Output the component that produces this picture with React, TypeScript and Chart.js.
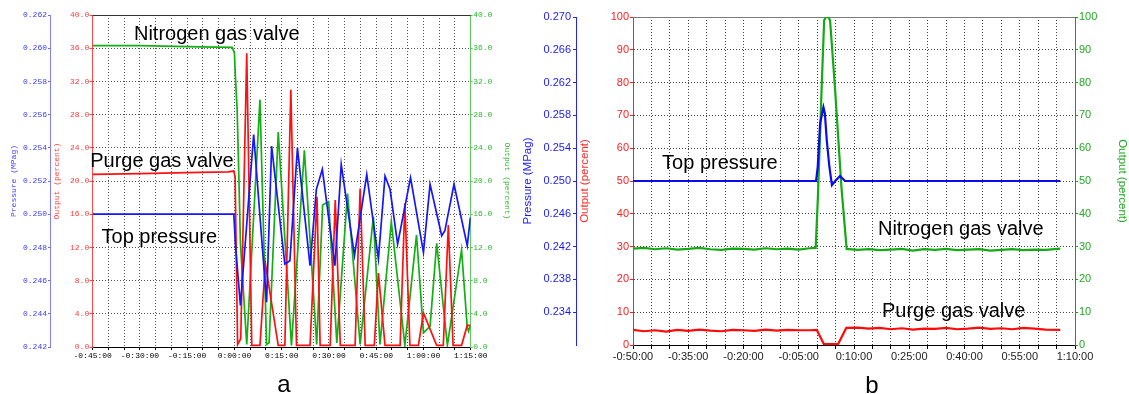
import React, { useEffect, useRef } from 'react';
import { Chart, registerables } from 'chart.js';
Chart.register(...registerables);

// ---------- Panel a ----------
const aTickStart = -45;
const aTickEnd = 75;
const aN2Time = [-45, -30, -15, -0.7, 0, 0.3, 0.85, 1.4, 1.9, 3.9, 8.1, 10.2, 11.0, 13.9, 18.1, 22.2, 26.1, 28.0, 29.9, 32.5, 35.9, 39.9, 44.1, 46.2, 49.8, 54.1, 57.8, 60.0, 62.1, 64.2, 67.6, 72.1, 73.9, 74.3, 74.9];
const aN2Values = [36.3, 36.3, 36.2, 36.1, 35.4, 32.6, 28.6, 20.5, 12.5, 0.3, 29.8, 0.3, 0.5, 25.9, 0.2, 23.7, 0.3, 17.1, 17.5, 0.5, 18.5, 0.3, 15.7, 0.3, 15.1, 0.2, 13.5, 1.7, 2.5, 12.5, 0.2, 11.7, 2.4, 1.9, 2.6];
const aPurgeTime = [-45, -30, -15, -2, -0.2, 0.2, 1.0, 2.0, 3.9, 5.5, 8.1, 9.8, 13.9, 16.0, 17.9, 19.7, 24.0, 26.2, 27.2, 30.4, 32.0, 33.6, 38.3, 39.9, 41.5, 44.4, 45.7, 47.8, 52.6, 54.1, 55.7, 58.4, 60.0, 64.2, 66.3, 67.9, 69.4, 72.1, 73.9, 74.9];
const aPurgeValues = [20.8, 20.9, 21.0, 21.1, 21.2, 20.5, 0.3, 1.0, 35.4, 0.2, 0.2, 10.1, 0.2, 0.2, 31.0, 0.2, 0.2, 18.1, 0.2, 0.2, 17.7, 0.2, 0.2, 19.1, 0.2, 0.2, 8.9, 0.2, 0.2, 17.3, 0.2, 0.2, 4.1, 0.2, 0.2, 14.7, 0.2, 0.2, 2.6, 2.6];
const aPressTime = [-45, -0.2, 0.3, 1.9, 6.1, 10.2, 11.8, 16.0, 17.6, 20.0, 24.0, 26.0, 27.9, 31.9, 33.9, 38.1, 42.0, 45.7, 47.8, 49.4, 51.8, 55.9, 60.0, 62.1, 65.8, 66.8, 69.7, 73.9, 74.9];
const aPressValues = [0.2500, 0.2500, 0.2482, 0.2445, 0.2548, 0.2447, 0.2541, 0.2470, 0.2472, 0.2540, 0.2469, 0.2515, 0.2527, 0.2469, 0.2530, 0.2475, 0.2524, 0.2473, 0.2523, 0.2515, 0.2482, 0.2522, 0.2477, 0.2518, 0.2487, 0.2490, 0.2518, 0.2481, 0.2498];
const aLabels = [
  { text: 'Nitrogen gas valve', x: -31.9, y: 37.0 },
  { text: 'Purge gas valve', x: -45.8, y: 21.7 },
  { text: 'Top pressure', x: -42.2, y: 12.5 },
];

// ---------- Panel b ----------
const bTickStart = -50;
const bTickEnd = 70;
const bPressTime = [-50, -0.3, 0.15, 0.8, 1.7, 2.1, 2.6, 3.3, 4.0, 4.9, 6.2, 7.6, 66];
const bPressValues = [0.2500, 0.2500, 0.2517, 0.2570, 0.2590, 0.2582, 0.2550, 0.2518, 0.2495, 0.2500, 0.2506, 0.2500, 0.2500];
const bN2Time = [-50, -47, -44, -41, -38, -35, -32, -29, -26, -23, -20, -17, -14, -11, -8, -5, -2, -0.4, 0.2, 1.2, 1.9, 2.4, 3.0, 3.5, 4.8, 6.6, 8.0, 11, 14, 17, 20, 23, 26, 29, 32, 35, 38, 41, 44, 47, 50, 53, 56, 59, 62, 66];
const bN2Values = [29.4, 29.6, 29.2, 29.5, 29.1, 29.3, 29.6, 29.2, 29.0, 29.4, 29.3, 29.1, 29.5, 29.2, 29.4, 29.1, 29.5, 29.6, 45, 78, 99, 100, 100, 99, 79, 48, 29.3, 29.0, 29.2, 28.9, 29.1, 29.3, 28.8, 29.2, 29.0, 29.3, 28.9, 29.1, 29.2, 28.8, 29.0, 29.2, 28.9, 29.1, 29.0, 29.4];
const bPurgeTime = [-50, -47, -44, -41, -38, -35, -32, -29, -26, -23, -20, -17, -14, -11, -8, -5, -2, -0.1, 1.8, 5.7, 7.9, 11, 14, 17, 20, 23, 26, 29, 32, 35, 38, 41, 44, 47, 50, 53, 56, 59, 62, 66];
const bPurgeValues = [4.6, 4.2, 4.5, 4.1, 4.6, 4.3, 4.7, 4.4, 4.2, 4.6, 4.5, 4.3, 4.7, 4.4, 4.6, 4.5, 4.5, 4.6, 0.3, 0.3, 5.2, 5.3, 5.0, 5.2, 4.8, 5.1, 4.7, 5.0, 4.9, 5.2, 4.8, 5.0, 5.3, 4.9, 5.1, 4.8, 5.2, 5.0, 4.7, 4.6];
const bLabels = [
  { text: 'Top pressure', x: -42.1, y: 53.7 },
  { text: 'Nitrogen gas valve', x: 16.5, y: 33.5 },
  { text: 'Purge gas valve', x: 17.6, y: 8.5 },
];

const fmtTime = (v: number) => {
  const r = Math.round(v);
  const s = r < 0 ? '-' : '';
  const a = Math.abs(r);
  const h = Math.floor(a / 60);
  const m = a % 60;
  return `${s}${h}:${String(m).padStart(2, '0')}:00`;
};

const toXY = (t: number[], v: number[]) => t.map((x, i) => ({ x, y: v[i] }));

function makeOverlay(labels: { text: string; x: number; y: number }[], font: string, topColor: string) {
  return {
    id: 'overlay',
    beforeDatasetsDraw(chart: any) {
      const { ctx, chartArea } = chart;
      ctx.save();
      ctx.strokeStyle = topColor;
      ctx.lineWidth = 1;
      ctx.beginPath();
      const y = Math.round(chartArea.top) + 0.5;
      ctx.moveTo(chartArea.left, y);
      ctx.lineTo(chartArea.right, y);
      ctx.stroke();
      ctx.restore();
    },
    afterDraw(chart: any) {
      const { ctx, scales } = chart;
      ctx.save();
      ctx.font = font;
      ctx.fillStyle = '#000';
      ctx.textAlign = 'left';
      ctx.textBaseline = 'alphabetic';
      labels.forEach((l) => ctx.fillText(l.text, scales.x.getPixelForValue(l.x), scales.yR.getPixelForValue(l.y)));
      ctx.restore();
    },
  };
}

const mono = { family: '"Liberation Mono", "DejaVu Sans Mono", monospace', size: 8 };
const sans = { family: '"Liberation Sans", Arial, sans-serif', size: 11 };
const sansTitle = { family: '"Liberation Sans", Arial, sans-serif', size: 11.5 };
const labelFont = '20px "Liberation Sans", Arial, sans-serif';

function configA(): any {
  return {
    type: 'line',
    data: {
      datasets: [
        { data: toXY(aPressTime, aPressValues), yAxisID: 'yP', borderColor: '#1515ff', borderWidth: 1.7, pointRadius: 0, tension: 0 },
        { data: toXY(aPurgeTime, aPurgeValues), yAxisID: 'yR', borderColor: '#ff1010', borderWidth: 1.7, pointRadius: 0, tension: 0 },
        { data: toXY(aN2Time, aN2Values), yAxisID: 'yG', borderColor: '#12b012', borderWidth: 1.7, pointRadius: 0, tension: 0 },
      ],
    },
    options: {
      responsive: false,
      animation: false,
      layout: { padding: { top: 15, left: 0, right: 0, bottom: 0 } },
      plugins: { legend: { display: false }, tooltip: { enabled: false } },
      scales: {
        x: {
          type: 'linear', min: aTickStart, max: aTickEnd,
          afterFit: (s: any) => { s.height = 47; },
          ticks: {
            stepSize: 5, autoSkip: false, maxRotation: 0, minRotation: 0, padding: 1, color: '#000', font: mono,
            callback: (v: any) => ((Math.round(v) - aTickStart) % 15 === 0 ? fmtTime(v) : ''),
          },
          grid: { color: '#555', tickColor: '#000', tickLength: 3, lineWidth: 1 },
          border: { color: '#000', dash: [1, 2] },
        },
        yP: {
          position: 'left', weight: 2, min: 0.242, max: 0.262,
          afterFit: (s: any) => { s.width = 50; },
          ticks: { stepSize: 0.002, color: '#3a3aff', font: mono, padding: 1, callback: (v: any) => Number(v).toFixed(3) },
          grid: { drawOnChartArea: false, tickColor: '#6a6aff', tickLength: 2 },
          border: { color: '#8080ff' },
          title: { display: true, text: 'Pressure (MPag)', color: '#3a3aff', font: mono, padding: { top: 9, bottom: 0 } },
        },
        yR: {
          position: 'left', weight: 1, min: 0, max: 40,
          afterFit: (s: any) => { s.width = 42.7; },
          ticks: { stepSize: 4, color: '#ff3a3a', font: mono, padding: 0.5, callback: (v: any) => Number(v).toFixed(1) },
          grid: { color: '#555', tickColor: '#ff4444', tickLength: 3 },
          border: { color: '#ff4848', dash: [1, 2] },
          title: { display: true, text: 'Output (percent)', color: '#ff3a3a', font: mono, padding: { top: 2, bottom: 0 } },
        },
        yG: {
          position: 'right', min: 0, max: 40,
          afterFit: (s: any) => { s.width = 49.3; },
          ticks: { stepSize: 4, color: '#2db82d', font: mono, padding: 0.5, callback: (v: any) => Number(v).toFixed(1) },
          grid: { drawOnChartArea: false, tickColor: '#55c455', tickLength: 2 },
          border: { color: '#5ccc5c' },
          title: { display: true, text: 'Output (percent)', color: '#2db82d', font: mono, padding: { top: 8.5, bottom: 0 } },
        },
      },
    },
    plugins: [makeOverlay(aLabels, labelFont, '#333')],
  };
}

function configB(): any {
  return {
    type: 'line',
    data: {
      datasets: [
        { data: toXY(bPressTime, bPressValues), yAxisID: 'yP', borderColor: '#0a0aee', borderWidth: 2.2, pointRadius: 0, tension: 0 },
        { data: toXY(bPurgeTime, bPurgeValues), yAxisID: 'yR', borderColor: '#ff0a0a', borderWidth: 2.2, pointRadius: 0, tension: 0 },
        { data: toXY(bN2Time, bN2Values), yAxisID: 'yG', borderColor: '#14aa14', borderWidth: 2.2, pointRadius: 0, tension: 0 },
      ],
    },
    options: {
      responsive: false,
      animation: false,
      layout: { padding: { top: 17, left: 0, right: 0, bottom: 0 } },
      plugins: { legend: { display: false }, tooltip: { enabled: false } },
      scales: {
        x: {
          type: 'linear', min: bTickStart, max: bTickEnd,
          afterFit: (s: any) => { s.height = 49; },
          ticks: {
            stepSize: 5, autoSkip: false, maxRotation: 0, minRotation: 0, padding: 1, color: '#222', font: sans,
            callback: (v: any) => ((Math.round(v) - bTickStart) % 15 === 0 ? fmtTime(v) : ''),
          },
          grid: { color: '#444', tickColor: '#000', tickLength: 4, lineWidth: 1 },
          border: { color: '#000', dash: [1, 2] },
        },
        yP: {
          position: 'left', weight: 2, min: 0.230, max: 0.270,
          afterFit: (s: any) => { s.width = 61; },
          ticks: {
            stepSize: 0.004, color: '#1a1aff', font: sans, padding: 2,
            callback: (v: any) => (Math.abs(Number(v) - 0.230) < 1e-6 ? '' : Number(v).toFixed(3)),
          },
          grid: { drawOnChartArea: false, tickColor: (c: any) => (c.index === 0 ? 'rgba(0,0,0,0)' : '#2222ff'), tickLength: 3 },
          border: { color: '#2222ff' },
          title: { display: true, text: 'Pressure (MPag)', color: '#1a1aff', font: sansTitle, padding: { top: 6, bottom: 0 } },
        },
        yR: {
          position: 'left', weight: 1, min: 0, max: 100,
          afterFit: (s: any) => { s.width = 57; },
          ticks: { stepSize: 10, color: '#ff2020', font: sans, padding: 1 },
          grid: { color: '#444', tickColor: '#ff2020', tickLength: 3 },
          border: { color: '#ff2020', dash: [1, 2] },
          title: { display: true, text: 'Output (percent)', color: '#ff3030', font: sansTitle, padding: { top: 2, bottom: 0 } },
        },
        yG: {
          position: 'right', min: 0, max: 100,
          afterFit: (s: any) => { s.width = 54; },
          ticks: { stepSize: 10, color: '#22aa22', font: sans, padding: 1 },
          grid: { drawOnChartArea: false, tickColor: '#10a010', tickLength: 3 },
          border: { color: '#10a010' },
          title: { display: true, text: 'Output (percent)', color: '#22aa22', font: sansTitle, padding: { top: 0, bottom: 0 } },
        },
      },
    },
    plugins: [makeOverlay(bLabels, labelFont, '#7a7a7a')],
  };
}

function Panel({ left, width, make }: { left: number; width: number; make: () => any }) {
  const ref = useRef<HTMLCanvasElement | null>(null);
  useEffect(() => {
    if (!ref.current) return;
    const chart = new Chart(ref.current, make());
    return () => chart.destroy();
  }, [make]);
  return (
    <canvas
      ref={ref}
      width={width}
      height={394}
      style={{ position: 'absolute', left, top: 0, width, height: 394, display: 'block' }}
    />
  );
}

const captionStyle: React.CSSProperties = {
  position: 'absolute',
  width: 40,
  textAlign: 'center',
  font: '24px "Liberation Sans", Arial, sans-serif',
  lineHeight: '24px',
  color: '#000',
};

export default function App() {
  return (
    <div style={{ position: 'absolute', left: 0, top: 0, width: 1129, height: 394, background: '#fff', overflow: 'hidden' }}>
      <Panel left={0} width={520} make={configA} />
      <Panel left={515} width={614} make={configB} />
      <div style={{ ...captionStyle, left: 264, top: 372 }}>a</div>
      <div style={{ ...captionStyle, left: 852, top: 373 }}>b</div>
    </div>
  );
}
